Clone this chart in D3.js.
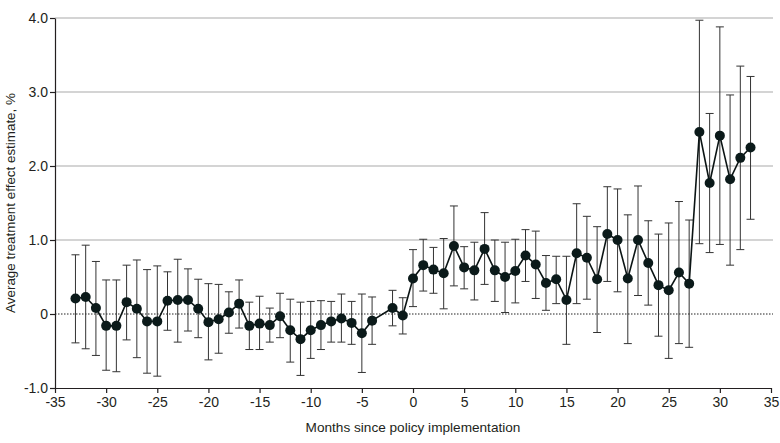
<!DOCTYPE html>
<html>
<head>
<meta charset="utf-8">
<script src="https://cdn.jsdelivr.net/npm/d3@7"></script>
<style>
  body { margin: 0; background: #fff; }
  svg { display: block; }
  text { font-family: "Liberation Sans Narrow", "Liberation Sans", sans-serif; fill: #231f20; }
</style>
</head>
<body>
<svg id="chart" width="780" height="443"></svg>
<script>
const months = [-33,-32,-31,-30,-29,-28,-27,-26,-25,-24,-23,-22,-21,-20,-19,-18,-17,-16,-15,-14,-13,-12,-11,-10,-9,-8,-7,-6,-5,-4,-2,-1,
  0,1,2,3,4,5,6,7,8,9,10,11,12,13,14,15,16,17,18,19,20,21,22,23,24,25,26,27,28,29,30,31,32,33];
const estimate = [0.21,0.23,0.08,-0.16,-0.16,0.16,0.07,-0.10,-0.10,0.18,0.19,0.19,0.07,-0.11,-0.07,0.02,0.14,-0.16,-0.13,-0.15,-0.03,-0.22,-0.34,-0.22,-0.15,-0.10,-0.06,-0.12,-0.26,-0.09,0.08,-0.02,
  0.48,0.66,0.60,0.55,0.92,0.63,0.59,0.88,0.59,0.50,0.58,0.79,0.67,0.42,0.47,0.19,0.82,0.76,0.47,1.08,1.00,0.48,1.00,0.69,0.39,0.32,0.56,0.41,2.46,1.77,2.41,1.82,2.11,2.25];
const upper = [0.80,0.93,0.71,0.46,0.46,0.66,0.73,0.60,0.65,0.57,0.74,0.61,0.47,0.41,0.40,0.30,0.46,0.16,0.24,0.08,0.28,0.20,0.16,0.17,0.18,0.17,0.27,0.17,0.27,0.23,0.32,0.22,
  0.87,1.01,0.90,1.02,1.46,0.91,0.97,1.37,1.00,0.97,1.01,1.14,1.12,0.79,0.78,0.78,1.49,1.32,1.18,1.72,1.69,1.34,1.73,1.26,1.08,1.23,1.52,1.27,3.97,2.71,3.88,2.96,3.35,3.21];
const lower = [-0.39,-0.47,-0.56,-0.76,-0.78,-0.35,-0.59,-0.80,-0.84,-0.22,-0.38,-0.23,-0.32,-0.62,-0.53,-0.26,-0.19,-0.48,-0.48,-0.38,-0.32,-0.65,-0.83,-0.60,-0.48,-0.38,-0.38,-0.41,-0.79,-0.41,-0.16,-0.27,
  0.10,0.31,0.28,0.07,0.38,0.34,0.19,0.40,0.17,0.02,0.15,0.44,0.21,0.05,0.14,-0.41,0.14,0.20,-0.25,0.44,0.30,-0.40,0.25,0.12,-0.30,-0.60,-0.40,-0.45,0.95,0.83,0.94,0.66,0.87,1.28];
const xTicks = [-35,-30,-25,-20,-15,-10,-5,0,5,10,15,20,25,30,35];
const yTicks = [-1,0,1,2,3,4];
const yTickLabels = ["-1.0","0","1.0","2.0","3.0","4.0"];
const xTitle = "Months since policy implementation";
const yTitle = "Average treatment effect estimate, %";

const data = months.map((m, i) => ({ m, v: estimate[i], lo: lower[i], hi: upper[i] }));

const svg = d3.select("#chart");
const margin = { left: 55, right: 9, top: 18, bottom: 55 };
const W = 780, H = 443;
const x = d3.scaleLinear().domain([-35, 35]).range([margin.left, W - margin.right]);
const y = d3.scaleLinear().domain([-1, 4]).range([H - margin.bottom, margin.top]);

function fitFont(sel, base, target) {
  sel.style("font-size", base + "px");
  const len = sel.node().getComputedTextLength();
  if (len > 0) sel.style("font-size", (base * target / len).toFixed(2) + "px");
}

// gridlines
svg.append("g").selectAll("line")
  .data(yTicks.filter(t => t > 0))
  .join("line")
  .attr("x1", x(-35)).attr("x2", x(35) + 2)
  .attr("y1", d => y(d)).attr("y2", d => y(d))
  .attr("stroke", "#aaaaaa").attr("stroke-width", 1.2);

// zero dotted line
svg.append("line")
  .attr("x1", x(-35)).attr("x2", x(35) + 2)
  .attr("y1", y(0)).attr("y2", y(0))
  .attr("stroke", "#222").attr("stroke-width", 1)
  .attr("stroke-dasharray", "1.5,1.5");

// axes
const yAxis = d3.axisLeft(y).tickValues(yTicks).tickFormat((d, i) => yTickLabels[i]).tickSize(5).tickSizeOuter(0);
const gy = svg.append("g").attr("transform", `translate(${margin.left},0)`).call(yAxis);
const xAxis = d3.axisBottom(x).tickValues(xTicks).tickFormat(d3.format("d")).tickSize(5).tickSizeOuter(0);
const gx = svg.append("g").attr("transform", `translate(0,${y(-1)})`).call(xAxis);
[gx, gy].forEach(g => {
  g.select(".domain").attr("stroke", "#231f20").attr("stroke-width", 1.2);
  g.selectAll(".tick line").attr("stroke", "#231f20").attr("stroke-width", 1.2);
  g.selectAll(".tick text").style("font-size", "14px").attr("fill", "#231f20")
    .style("font-family", "'Liberation Sans Narrow', 'Liberation Sans', sans-serif");
});
gy.selectAll(".tick text").attr("x", -7);
gx.selectAll(".tick text").attr("y", 9).text(d => d < 0 ? "-" + Math.abs(d) : d);

// titles
const xt = svg.append("text").attr("x", (x(-35) + x(35)) / 2).attr("y", 432)
  .attr("text-anchor", "middle").text(xTitle);
fitFont(xt, 14, 215);
const yt = svg.append("text").attr("transform", `translate(15,${203}) rotate(-90)`)
  .attr("text-anchor", "middle").text(yTitle);
fitFont(yt, 14, 220);

// error bars
const eb = svg.append("g").attr("stroke", "#333").attr("stroke-width", 1);
eb.selectAll("line.v").data(data).join("line").attr("class", "v")
  .attr("x1", d => x(d.m)).attr("x2", d => x(d.m))
  .attr("y1", d => y(d.hi)).attr("y2", d => y(d.lo));
eb.selectAll("line.t").data(data).join("line").attr("class", "t")
  .attr("x1", d => x(d.m) - 4).attr("x2", d => x(d.m) + 4)
  .attr("y1", d => y(d.hi)).attr("y2", d => y(d.hi));
eb.selectAll("line.b").data(data).join("line").attr("class", "b")
  .attr("x1", d => x(d.m) - 4).attr("x2", d => x(d.m) + 4)
  .attr("y1", d => y(d.lo)).attr("y2", d => y(d.lo));

// connecting line
svg.append("path").datum(data)
  .attr("fill", "none").attr("stroke", "#0b1414").attr("stroke-width", 1.6)
  .attr("d", d3.line().x(d => x(d.m)).y(d => y(d.v)));

// points
svg.append("g").selectAll("circle").data(data).join("circle")
  .attr("cx", d => x(d.m)).attr("cy", d => y(d.v)).attr("r", 5)
  .attr("fill", "#0b1a1a");
</script>
</body>
</html>
